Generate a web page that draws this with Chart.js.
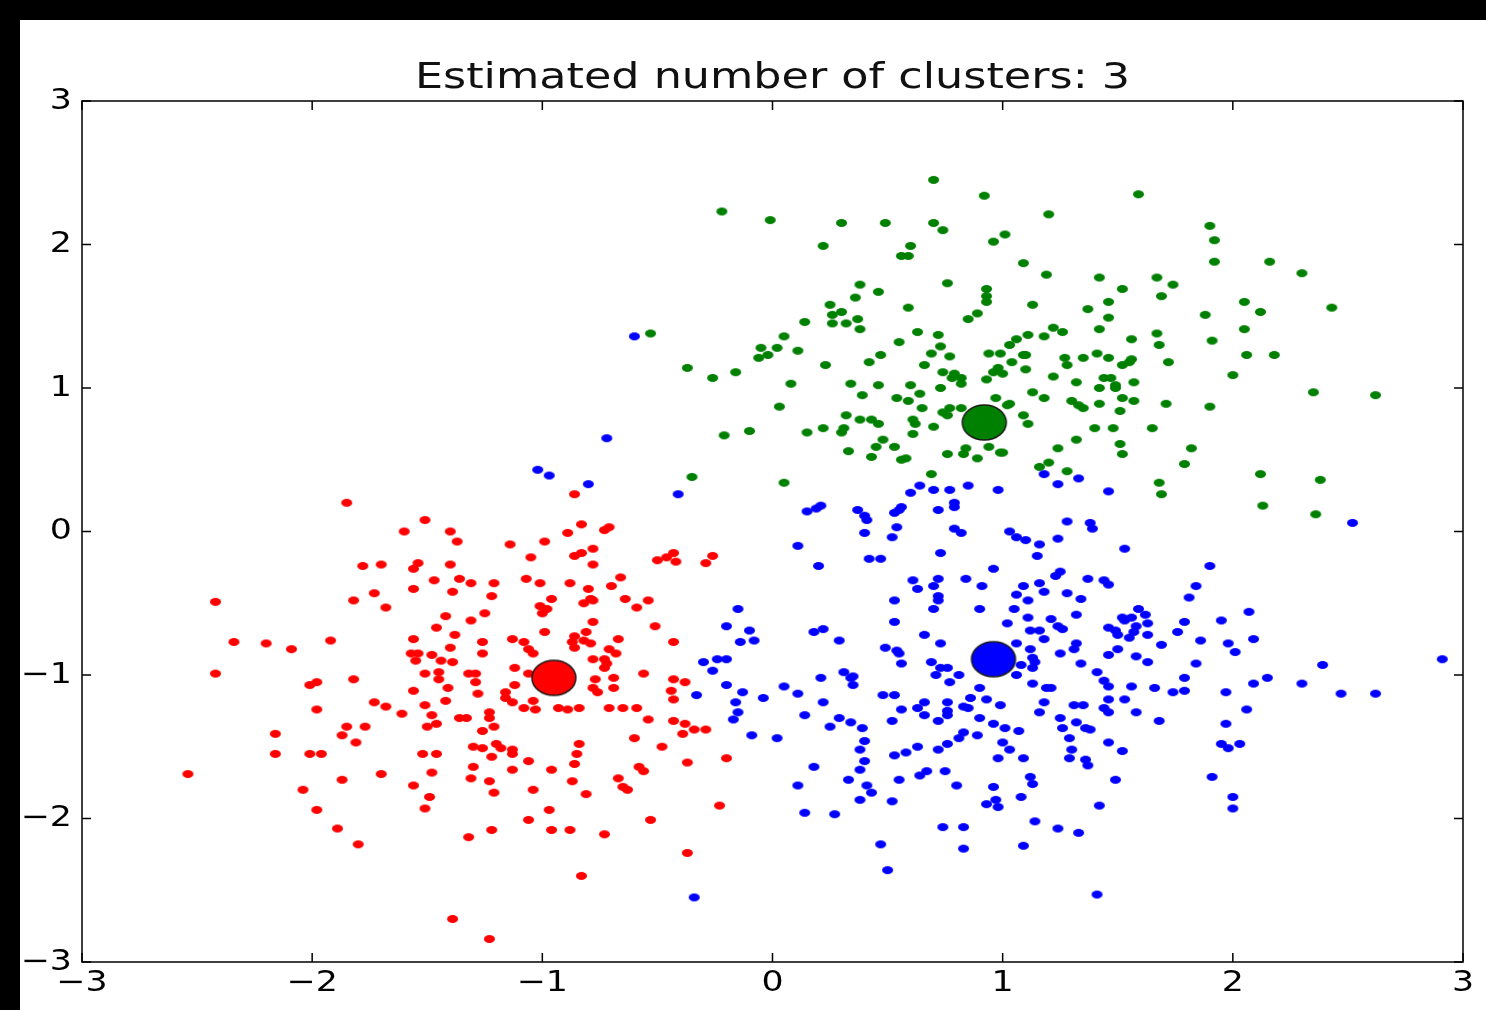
<!DOCTYPE html>
<html>
<head>
<meta charset="utf-8">
<title>Estimated number of clusters: 3</title>
<script src="https://cdn.jsdelivr.net/npm/chart.js@4.4.1/dist/chart.umd.min.js"></script>
<style>
  html, body { margin: 0; padding: 0; background: #000; }
  #wrap { position: absolute; left: 20px; top: 20px; width: 1466px; height: 990px; background: #fff; }
</style>
</head>
<body>
<div id="wrap"><canvas id="chart" width="1466" height="990"></canvas></div>
<script>
// ---- data: [x, y] per sample ----
const titleText = 'Estimated number of clusters: 3';
const axisTicks = [-3, -2, -1, 0, 1, 2, 3];

const blueCenter = [0.96, -0.89];
const greenCenter = [0.92, 0.76];
const redCenter = [-0.95, -1.02];

const greenPoints = [
  [0.70,2.45],[0.92,2.34],[1.59,2.35],[-0.22,2.23],[-0.01,2.17],[0.30,2.15],[0.49,2.15],[0.70,2.15],[0.74,2.10],[1.20,2.21],
  [1.90,2.13],[1.92,2.03],[1.01,2.07],[0.96,2.02],[0.60,1.99],[0.56,1.92],[0.59,1.92],[0.22,1.99],[1.09,1.87],[1.19,1.79],
  [1.92,1.88],[2.16,1.88],[2.30,1.80],[0.76,1.73],[1.42,1.77],[1.74,1.72],[1.69,1.64],[1.52,1.69],[1.67,1.77],[0.93,1.69],
  [0.93,1.64],[0.93,1.60],[0.38,1.72],[0.46,1.67],[0.36,1.63],[1.46,1.60],[2.05,1.60],[2.12,1.53],[2.43,1.56],[1.88,1.51],
  [1.37,1.55],[1.13,1.58],[1.46,1.49],[0.25,1.58],[0.59,1.56],[0.26,1.51],[0.30,1.53],[0.26,1.45],[0.32,1.45],[0.37,1.48],
  [0.38,1.41],[0.14,1.46],[0.85,1.48],[0.89,1.52],[0.63,1.39],[0.72,1.37],[0.05,1.36],[0.55,1.32],[0.73,1.29],[-0.53,1.38],
  [-0.05,1.28],[0.02,1.28],[0.11,1.26],[-0.02,1.23],[-0.06,1.21],[2.05,1.41],[1.42,1.41],[1.22,1.42],[1.26,1.39],[1.06,1.34],
  [1.11,1.37],[1.18,1.36],[1.03,1.30],[1.56,1.34],[1.67,1.38],[1.68,1.30],[1.91,1.33],
  [-0.37,1.14],[-0.26,1.07],[-0.16,1.11],[0.23,1.16],[0.08,1.03],[0.03,0.87],[-0.10,0.70],[-0.21,0.67],[-0.35,0.38],[0.05,0.34],
  [0.42,1.18],[0.47,1.23],[0.34,1.03],[0.46,1.02],[0.39,0.95],[0.54,0.93],[0.59,0.91],[0.60,1.02],[0.64,0.96],[0.65,0.86],
  [0.66,1.16],[0.69,1.24],[0.77,1.22],[0.74,1.11],[0.78,1.07],[0.79,1.10],[0.82,1.03],[0.82,1.07],[0.73,1.00],[0.94,1.24],
  [0.99,1.24],[0.96,1.11],[0.98,1.14],[0.93,1.06],[0.97,0.93],[1.02,0.88],[0.32,0.81],[0.38,0.78],[0.43,0.78],[0.46,0.75],
  [0.61,0.78],[0.62,0.75],[0.61,0.68],[0.31,0.72],[0.30,0.69],[0.15,0.69],[0.22,0.72],[0.70,0.73],[0.74,0.83],[0.77,0.86],
  [0.82,0.86],[0.76,0.81],[0.48,0.64],[0.45,0.59],[0.53,0.59],[0.33,0.56],[0.43,0.52],[0.56,0.50],[0.58,0.51],[0.76,0.54],
  [0.83,0.54],[0.84,0.58],[0.89,0.51],[0.94,0.59],[0.99,0.55],[0.69,0.40],
  [1.09,1.23],[1.10,1.23],[1.04,1.18],[1.10,1.13],[1.00,1.10],[1.27,1.21],[1.28,1.16],[1.35,1.21],[1.41,1.24],[1.46,1.21],
  [1.52,1.16],[1.55,1.18],[1.56,1.20],[1.72,1.18],[2.06,1.23],[2.18,1.23],[2.00,1.09],[1.22,1.08],[1.32,1.04],[1.44,1.07],
  [1.47,1.07],[1.49,1.02],[1.49,1.00],[1.42,1.00],[1.57,1.04],[1.13,0.97],[1.18,0.93],[1.30,0.91],[1.33,0.88],[1.35,0.86],
  [1.42,0.89],[1.52,0.93],[1.57,0.91],[1.51,0.84],[1.71,0.89],[1.90,0.87],[2.35,0.97],[2.62,0.95],[1.03,0.89],[1.09,0.81],
  [1.11,0.75],[1.40,0.72],[1.48,0.72],[1.65,0.72],[1.32,0.64],[1.24,0.58],[1.00,0.55],[1.51,0.61],[1.52,0.54],[1.82,0.58],
  [1.79,0.47],[1.16,0.45],[1.20,0.48],[1.28,0.42],[2.12,0.40],[2.38,0.36],[1.68,0.34],[1.69,0.26],[2.13,0.18],[2.36,0.12]
];

const redPoints = [
  [-1.85,0.20],[-1.51,0.08],[-1.60,0.00],[-1.40,0.00],[-1.37,-0.07],[-1.78,-0.24],[-1.70,-0.23],[-1.54,-0.22],[-1.56,-0.26],[-1.40,-0.23],
  [-1.47,-0.34],[-1.36,-0.33],[-1.56,-0.40],[-1.39,-0.42],[-1.73,-0.43],[-1.82,-0.48],[-1.68,-0.53],[-2.42,-0.49],[-1.42,-0.59],[-1.46,-0.67],
  [-1.38,-0.72],[-1.56,-0.75],[-1.40,-0.81],[-2.34,-0.77],[-2.20,-0.78],[-2.09,-0.82],[-1.92,-0.76],[-1.57,-0.85],[-1.54,-0.85],[-1.55,-0.90],
  [-1.48,-0.86],[-1.44,-0.90],[-1.39,-0.91],[-2.42,-0.99],[-1.51,-0.99],[-1.45,-0.98],[-1.45,-1.03],[-1.41,-1.09],[-2.01,-1.07],[-1.98,-1.05],
  [-1.82,-1.03],[-1.56,-1.11],[-1.42,-1.18],[-1.73,-1.19],[-1.68,-1.22],[-1.51,-1.21],[-1.61,-1.27],[-1.98,-1.24],[-1.48,-1.28],[-1.46,-1.34],
  [-1.50,-1.36],[-2.16,-1.41],[-1.85,-1.36],[-1.77,-1.36],[-1.87,-1.42],[-1.81,-1.47],[-2.16,-1.55],[-2.01,-1.55],[-1.96,-1.55],[-1.52,-1.55],
  [-1.46,-1.55],[-2.54,-1.69],[-1.70,-1.69],[-1.87,-1.73],[-1.48,-1.68],[-2.04,-1.80],[-1.56,-1.77],[-1.49,-1.85],[-1.51,-1.93],[-1.98,-1.94],
  [-1.89,-2.07],[-1.80,-2.18],[-1.39,-2.70],[-1.36,-1.30],
  [-0.86,0.26],[-1.14,-0.09],[-0.99,-0.07],[-1.05,-0.18],[-0.89,-0.01],[-0.83,0.05],[-0.73,0.01],[-0.71,0.03],[-0.86,-0.17],[-0.83,-0.15],
  [-0.78,-0.12],[-0.78,-0.23],[-0.50,-0.20],[-0.46,-0.18],[-0.43,-0.15],[-0.42,-0.21],[-0.29,-0.22],[-0.26,-0.17],[-1.31,-0.36],[-1.21,-0.36],
  [-1.22,-0.45],[-1.07,-0.33],[-1.01,-0.36],[-0.88,-0.36],[-0.66,-0.32],[-0.70,-0.38],[-0.80,-0.40],[-0.79,-0.47],[-0.82,-0.50],[-0.78,-0.48],
  [-0.96,-0.47],[-1.01,-0.52],[-1.00,-0.57],[-0.98,-0.54],[-0.64,-0.47],[-0.59,-0.53],[-0.54,-0.48],[-1.25,-0.57],[-1.31,-0.62],[-0.78,-0.63],
  [-0.51,-0.66],[-0.99,-0.70],[-0.81,-0.70],[-1.13,-0.75],[-1.08,-0.77],[-1.06,-0.82],[-1.04,-0.85],[-1.26,-0.77],[-1.26,-0.85],[-0.86,-0.73],
  [-0.87,-0.77],[-0.86,-0.81],[-0.79,-0.78],[-0.82,-0.76],[-0.67,-0.75],[-0.71,-0.82],[-0.68,-0.85],[-0.43,-0.77],[-0.78,-0.89],[-0.73,-0.89],
  [-0.72,-0.92],[-0.73,-0.95],[-1.12,-0.95],[-1.32,-0.99],[-1.29,-0.99],[-1.29,-1.05],[-1.06,-0.99],[-0.56,-0.99],[-0.77,-1.03],[-0.69,-1.02],
  [-0.69,-1.09],[-0.43,-1.03],[-0.38,-1.05],[-1.12,-1.07],[-0.78,-1.09],[-0.76,-1.12],[-0.44,-1.11],[-0.43,-1.17],[-1.28,-1.13],[-1.16,-1.12],
  [-1.16,-1.16],[-1.13,-1.19],[-1.04,-1.18],[-1.03,-1.24],[-1.08,-1.23],[-0.93,-1.23],[-0.89,-1.24],[-0.84,-1.23],[-0.71,-1.23],[-0.65,-1.23],
  [-0.59,-1.23],[-1.33,-1.30],[-1.23,-1.26],[-1.23,-1.30],[-0.54,-1.31],
  [-1.21,-1.36],[-1.26,-1.39],[-0.43,-1.32],[-0.38,-1.34],[-0.39,-1.41],[-0.34,-1.38],[-0.29,-1.38],[-0.60,-1.44],[-0.48,-1.50],[-1.30,-1.50],
  [-1.26,-1.51],[-1.20,-1.48],[-1.18,-1.51],[-1.13,-1.52],[-1.13,-1.55],[-1.22,-1.57],[-1.06,-1.60],[-0.84,-1.48],[-0.85,-1.55],[-0.86,-1.62],
  [-1.30,-1.64],[-1.13,-1.66],[-0.96,-1.66],[-0.58,-1.64],[-0.56,-1.67],[-0.37,-1.61],[-0.20,-1.58],[-1.31,-1.72],[-1.23,-1.74],[-1.21,-1.82],
  [-1.04,-1.80],[-0.87,-1.74],[-0.81,-1.83],[-0.67,-1.72],[-0.65,-1.78],[-0.63,-1.80],[-0.23,-1.91],[-0.97,-1.94],[-1.06,-2.01],[-0.53,-2.01],
  [-1.22,-2.08],[-0.96,-2.08],[-0.88,-2.08],[-0.73,-2.11],[-1.32,-2.13],[-0.37,-2.24],[-0.83,-2.40],[-1.23,-2.84]
];

const bluePoints = [
  [-0.60,1.36],[-0.72,0.65],[-1.02,0.43],[-0.97,0.39],[-0.80,0.33],[-0.41,0.26],[0.15,0.14],[0.19,0.16],[0.21,0.18],[0.37,0.15],
  [0.40,0.11],[0.41,0.08],[0.40,-0.01],[0.53,0.13],[0.55,0.15],[0.56,0.17],[0.60,0.27],[0.64,0.32],[0.70,0.29],[0.77,0.29],
  [0.85,0.32],[0.98,0.29],[1.18,0.40],[1.24,0.33],[1.33,0.37],[1.46,0.28],[1.28,0.07],[1.38,0.06],[1.39,0.02],[2.52,0.06],
  [0.79,0.20],[0.79,0.17],[0.72,0.15],[0.79,0.02],[0.82,-0.01],[0.54,0.03],[0.52,-0.04],[1.03,0.00],[1.06,-0.04],[1.10,-0.06],
  [1.16,-0.09],[1.15,-0.17],[1.24,-0.05],[0.11,-0.10],[0.20,-0.24],[0.42,-0.19],[0.47,-0.19],[0.73,-0.15],[0.96,-0.26],[0.84,-0.33],
  [0.91,-0.38],[0.61,-0.34],[0.63,-0.40],[0.70,-0.38],[0.72,-0.33],[0.72,-0.45],[0.72,-0.48],[0.70,-0.54],[0.53,-0.48],[0.53,-0.63],
  [0.66,-0.72],[0.73,-0.78],[0.90,-0.54],[1.05,-0.54],[1.06,-0.44],[1.11,-0.48],[1.09,-0.38],[1.16,-0.36],[1.18,-0.42],[1.02,-0.64],
  [1.11,-0.60],[1.21,-0.61],[1.24,-0.66],[1.26,-0.68],[1.28,-0.43],[1.23,-0.31],[1.25,-0.28],[1.12,-0.69],[1.16,-0.69],[1.18,-0.75],
  [1.06,-0.78],[1.12,-0.82],[1.13,-0.88],[1.14,-0.91],[1.13,-0.95],[1.25,-0.85],[1.08,-0.93],[-0.15,-0.54],[-0.20,-0.66],[-0.10,-0.69],
  [-0.14,-0.77],[-0.08,-0.76],[0.18,-0.70],[0.22,-0.68],[0.29,-0.76],[0.49,-0.81],[0.54,-0.83],[0.55,-0.85],[0.56,-0.92],[0.69,-0.91],
  [0.73,-0.95],[0.76,-0.95],[-0.30,-0.91],[-0.24,-0.89],[-0.20,-0.89],[-0.26,-0.97],[0.31,-0.98],[0.35,-1.01],[0.21,-1.02],
  [-0.20,-1.07],[-0.13,-1.12],[-0.33,-1.14],[-0.16,-1.19],[-0.15,-1.26],[-0.17,-1.31],[-0.04,-1.16],[0.05,-1.08],[0.11,-1.13],[0.22,-1.19],
  [0.14,-1.28],[-0.09,-1.42],[0.02,-1.44],[0.34,-1.02],[0.35,-1.07],[0.29,-1.30],[0.25,-1.36],[0.34,-1.33],[0.39,-1.37],[0.40,-1.46],
  [0.38,-1.52],[0.40,-1.60],[0.38,-1.66],[0.41,-1.77],[0.43,-1.82],[0.38,-1.87],[0.33,-1.73],[0.18,-1.64],[0.11,-1.77],[0.14,-1.96],
  [0.27,-1.97],[0.48,-1.14],[0.53,-1.14],[0.56,-1.24],[0.52,-1.32],[0.63,-1.23],[0.66,-1.28],[0.66,-1.19],[0.72,-1.32],[0.76,-1.19],
  [0.76,-1.25],[0.76,-1.28],[0.83,-1.22],[0.85,-1.23],[0.86,-1.16],[0.90,-1.09],[0.93,-1.17],[0.99,-1.21],[0.71,-1.00],[0.77,-1.05],
  [0.81,-1.00],[1.06,-1.00],[1.13,-1.06],[1.19,-1.09],[1.21,-1.09],[1.18,-1.19],[1.16,-1.26],[1.25,-1.30],[1.26,-1.37],[1.29,-1.44],
  [1.29,-1.58],[0.90,-1.30],[0.96,-1.34],[1.01,-1.37],[1.07,-1.39],[0.89,-1.42],[0.83,-1.40],[0.81,-1.44],[0.76,-1.48],[0.72,-1.52],
  [0.63,-1.50],[0.58,-1.54],[0.53,-1.56],[1.00,-1.47],[1.03,-1.52],[0.98,-1.58],[1.09,-1.58],[1.12,-1.71],[1.13,-1.76],[0.96,-1.78],
  [0.97,-1.87],[0.93,-1.90],[0.98,-1.92],[1.08,-1.85],[0.67,-1.67],[0.64,-1.70],[0.75,-1.67],[0.80,-1.77],[0.55,-1.73],[0.52,-1.88],
  [0.74,-2.06],[0.83,-2.06],[0.83,-2.21],[1.14,-2.02],[1.24,-2.07],[1.09,-2.19],[0.47,-2.18],[0.50,-2.36],[-0.34,-2.55],
  [1.41,-0.98],[1.44,-1.04],[1.46,-1.08],[1.56,-1.08],[1.66,-1.09],[1.74,-1.12],[1.79,-1.02],[1.79,-1.11],[1.97,-1.12],[2.09,-1.06],
  [2.15,-1.02],[2.30,-1.06],[2.47,-1.13],[2.62,-1.13],[1.46,-1.17],[1.53,-1.17],[1.31,-1.21],[1.35,-1.21],[1.44,-1.23],[1.46,-1.26],
  [1.58,-1.26],[1.68,-1.32],[1.97,-1.34],[2.06,-1.24],[1.32,-1.33],[1.36,-1.37],[1.38,-1.38],[1.30,-1.52],[1.36,-1.59],[1.37,-1.63],
  [1.46,-1.47],[1.52,-1.53],[1.49,-1.73],[1.42,-1.91],[1.95,-1.48],[1.98,-1.51],[2.03,-1.48],[1.91,-1.71],[2.00,-1.85],[2.00,-1.93],
  [1.33,-2.10],[1.41,-2.53],
  [1.53,-0.12],[1.90,-0.24],[1.84,-0.38],[1.81,-0.46],[1.37,-0.33],[1.44,-0.34],[1.46,-0.37],[1.34,-0.47],[1.32,-0.58],[1.46,-0.67],
  [1.49,-0.69],[1.50,-0.72],[1.52,-0.60],[1.56,-0.60],[1.59,-0.54],[1.62,-0.58],[1.63,-0.64],[1.58,-0.66],[1.57,-0.70],[1.55,-0.74],
  [1.63,-0.72],[1.53,-0.62],[1.79,-0.63],[1.76,-0.70],[1.95,-0.62],[2.07,-0.56],[2.09,-0.75],[1.86,-0.76],[1.98,-0.78],[2.01,-0.84],
  [1.69,-0.79],[1.50,-0.82],[1.46,-0.86],[1.58,-0.87],[1.63,-0.91],[1.32,-0.78],[1.31,-0.82],[1.34,-0.92],[1.84,-0.92],[2.39,-0.93],
  [2.91,-0.89]
];

// ---- marker images (matplotlib dots, slightly stretched like the picture) ----
function dot(color, w, h, edge) {
  const c = document.createElement('canvas');
  c.width = w + 4;
  c.height = h + 4;
  const g = c.getContext('2d');
  g.beginPath();
  g.ellipse(c.width / 2, c.height / 2, w / 2, h / 2, 0, 0, Math.PI * 2);
  g.fillStyle = color;
  g.fill();
  if (edge) {
    g.lineWidth = 1.5;
    g.strokeStyle = '#1a1a1a';
    g.stroke();
  }
  return c;
}

const toXY = arr => arr.map(p => ({ x: p[0], y: p[1] }));
const minus = v => (v < 0 ? '\u2212' + Math.abs(v) : String(v));

const FONT = "'DejaVu Sans', sans-serif";

// the picture's text is wider than it is tall
function wideText(ctx, text, x, y, align, baseline, stretch) {
  ctx.save();
  ctx.translate(x, y);
  ctx.scale(stretch, 1);
  ctx.textAlign = align;
  ctx.textBaseline = baseline;
  ctx.fillText(text, 0, 0);
  ctx.restore();
}

// frame box, inward ticks on all four sides, tick labels and title
const framePlugin = {
  id: 'frame',
  afterDatasetsDraw(chart) {
    const { ctx, chartArea: a, scales } = chart;
    const len = 9;
    ctx.save();
    ctx.strokeStyle = '#000';
    ctx.lineWidth = 1.5;
    ctx.strokeRect(a.left, a.top, a.right - a.left, a.bottom - a.top);
    ctx.beginPath();
    scales.x.ticks.forEach(t => {
      const px = scales.x.getPixelForValue(t.value);
      ctx.moveTo(px, a.bottom); ctx.lineTo(px, a.bottom - len);
      ctx.moveTo(px, a.top); ctx.lineTo(px, a.top + len);
    });
    scales.y.ticks.forEach(t => {
      const py = scales.y.getPixelForValue(t.value);
      ctx.moveTo(a.left, py); ctx.lineTo(a.left + len, py);
      ctx.moveTo(a.right, py); ctx.lineTo(a.right - len, py);
    });
    ctx.stroke();

    ctx.fillStyle = '#000';
    ctx.font = '29px ' + FONT;
    scales.x.ticks.forEach(t => {
      wideText(ctx, minus(t.value), scales.x.getPixelForValue(t.value), a.bottom + 21, 'center', 'middle', 1.2);
    });
    scales.y.ticks.forEach(t => {
      wideText(ctx, minus(t.value), a.left - 10, scales.y.getPixelForValue(t.value), 'right', 'middle', 1.2);
    });

    ctx.fillStyle = '#111';
    ctx.font = '36px ' + FONT;
    wideText(ctx, titleText, (a.left + a.right) / 2, 68, 'center', 'alphabetic', 1.235);
    ctx.restore();
  }
};

new Chart(document.getElementById('chart'), {
  type: 'scatter',
  data: {
    datasets: [
      { label: 'red center', data: toXY([redCenter]), pointStyle: dot('#ff0000', 44, 35, true), pointRadius: 20 },
      { label: 'red', data: toXY(redPoints), pointStyle: dot('#ff0000', 11, 8), pointRadius: 5 },
      { label: 'green center', data: toXY([greenCenter]), pointStyle: dot('#008000', 44, 35, true), pointRadius: 20 },
      { label: 'green', data: toXY(greenPoints), pointStyle: dot('#008000', 11, 8), pointRadius: 5 },
      { label: 'blue center', data: toXY([blueCenter]), pointStyle: dot('#0000ff', 44, 35, true), pointRadius: 20 },
      { label: 'blue', data: toXY(bluePoints), pointStyle: dot('#0000ff', 11, 8), pointRadius: 5 },
    ],
  },
  options: {
    responsive: false,
    animation: false,
    devicePixelRatio: 1,
    layout: { autoPadding: false, padding: { left: 0, right: 23, top: 81, bottom: 0 } },
    plugins: {
      legend: { display: false },
      tooltip: { enabled: false },
      title: { display: false },
    },
    scales: {
      x: {
        type: 'linear',
        min: axisTicks[0],
        max: axisTicks[axisTicks.length - 1],
        afterBuildTicks: s => { s.ticks = axisTicks.map(v => ({ value: v })); },
        afterFit: s => { s.height = 48; },
        grid: { display: false, drawTicks: false },
        border: { display: false },
        ticks: { display: false },
      },
      y: {
        type: 'linear',
        min: axisTicks[0],
        max: axisTicks[axisTicks.length - 1],
        afterBuildTicks: s => { s.ticks = axisTicks.map(v => ({ value: v })); },
        afterFit: s => { s.width = 62; },
        grid: { display: false, drawTicks: false },
        border: { display: false },
        ticks: { display: false },
      },
    },
  },
  plugins: [framePlugin],
});
</script>
</body>
</html>
